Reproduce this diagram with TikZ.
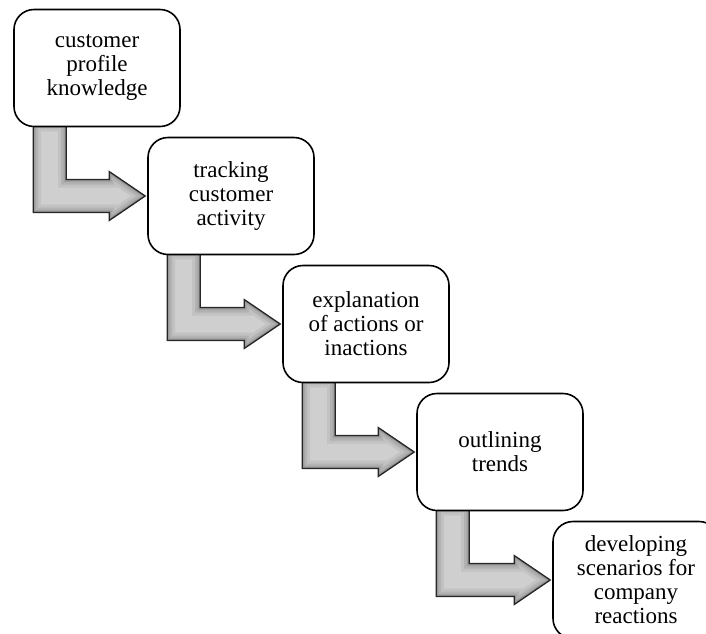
\documentclass[tikz,border=0pt]{standalone}
\usepackage{fontspec}
\setmainfont{Liberation Serif}
\usetikzlibrary{backgrounds,calc}
\newcommand\stepshape[2]{let \p1=(#1.south west), \p2=(#2.west) in
  (\x1+20pt,\y1+4pt) -- (\x1+53pt,\y1+4pt) -- (\x1+53pt,\y2+16.5pt) --
  (\x2-38pt,\y2+16.5pt) -- (\x2-38pt,\y2+24.5pt) -- (\x2-2pt,\y2) --
  (\x2-38pt,\y2-24.5pt) -- (\x2-38pt,\y2-16.5pt) -- (\x1+20pt,\y2-16.5pt) -- cycle}

\begin{document}
\begin{tikzpicture}[x=1pt,y=-1pt,line join=round,
  stage/.style={draw,fill=white,line width=1.6pt,rounded corners=20pt,
    minimum width=166pt,minimum height=117pt,inner sep=0pt,align=center,
    font=\fontsize{23}{24}\selectfont}]
\useasboundingbox (0,0) rectangle (706,633);
\clip (0,0) rectangle (706,633);
\node[stage] (profile) at (97,68) {customer\\profile\\knowledge};
\node[stage] (tracking) at (231,196) {tracking\\customer\\activity};
\node[stage] (explain) at (366,324) {explanation\\of actions or\\inactions};
\node[stage] (trends) at (500,452) {outlining\\trends};
\node[stage] (scenarios) at (636,580) {developing\\scenarios for\\company\\reactions};
\begin{pgfonlayer}{background}
\foreach \a/\b in {profile/tracking,tracking/explain,explain/trends,trends/scenarios}{
  \begin{scope}
    \clip \stepshape{\a}{\b};
    \fill[gray!38] \stepshape{\a}{\b};
    \draw[line width=16pt,gray!48] \stepshape{\a}{\b};
    \draw[line width=10pt,gray!60] \stepshape{\a}{\b};
    \draw[line width=5pt,gray!74] \stepshape{\a}{\b};
    \draw[line width=2.4pt,gray!88] \stepshape{\a}{\b};
  \end{scope}
  \draw[line width=1.3pt,black!85] \stepshape{\a}{\b};
}
\end{pgfonlayer}
\end{tikzpicture}
\end{document}
